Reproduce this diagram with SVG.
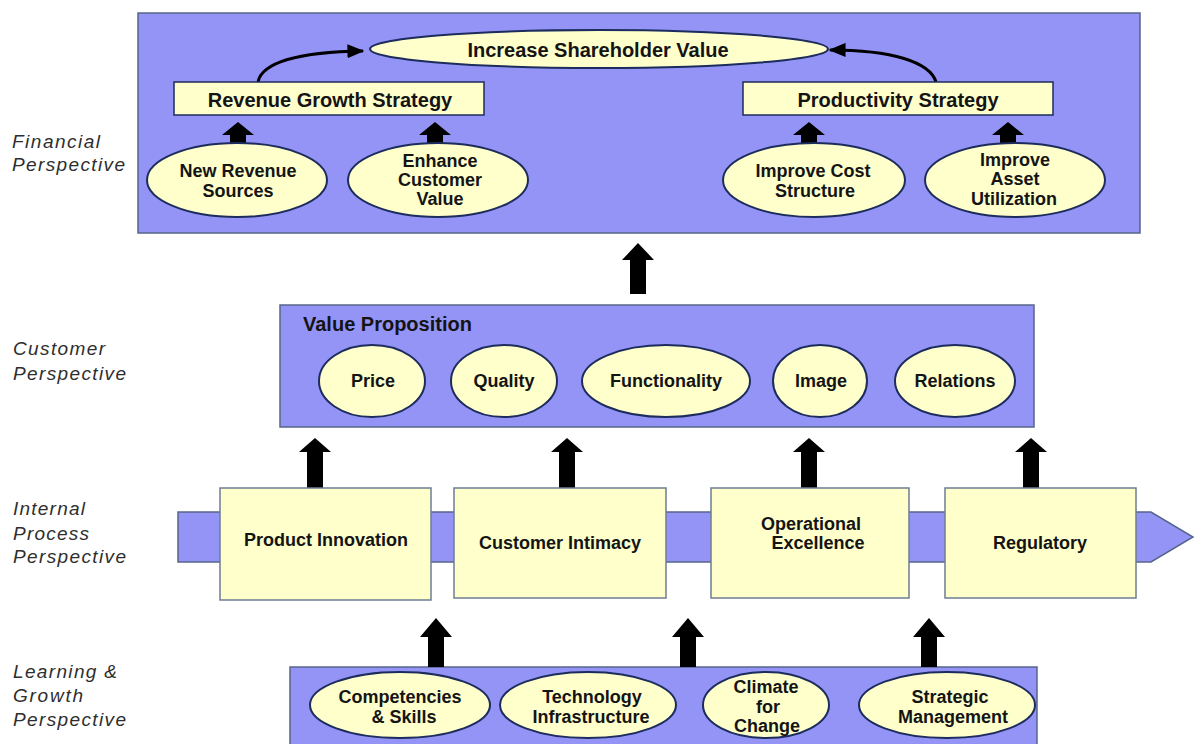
<svg xmlns="http://www.w3.org/2000/svg" width="1196" height="744" viewBox="0 0 1196 744">
<defs>
<style>
.panel{fill:#9494F6;stroke:#55658a;stroke-width:1.5}
.box{fill:#FFFFCC;stroke:#6d7d92;stroke-width:1.5}
.ell{fill:#FFFFCC;stroke:#1c2c5c;stroke-width:2}
.blk{fill:#000}
.t{font-family:"Liberation Sans",Arial,sans-serif;font-weight:bold;font-size:18px;fill:#141414;text-anchor:middle}
.h{font-family:"Liberation Sans",Arial,sans-serif;font-weight:bold;font-size:20px;fill:#141414;text-anchor:middle}
.lab{font-family:"Liberation Sans",Arial,sans-serif;font-style:italic;font-size:19px;fill:#2e2e2e}
.curve{fill:none;stroke:#000;stroke-width:3}
</style>
<marker id="ah" viewBox="0 0 12 10" refX="11" refY="5" markerWidth="17" markerHeight="15" markerUnits="userSpaceOnUse" orient="auto">
<path d="M0,0 L12,5 L0,10 z" fill="#000"/>
</marker>
</defs>
<rect width="1196" height="744" fill="#fff"/>

<g id="labels">
<text class="lab" x="12" y="148" textLength="88" lengthAdjust="spacing">Financial</text>
<text class="lab" x="12" y="171" textLength="113" lengthAdjust="spacing">Perspective</text>
<text class="lab" x="13" y="355" textLength="92" lengthAdjust="spacing">Customer</text>
<text class="lab" x="13" y="380" textLength="113" lengthAdjust="spacing">Perspective</text>
<text class="lab" x="13" y="515" textLength="72" lengthAdjust="spacing">Internal</text>
<text class="lab" x="13" y="540" textLength="76" lengthAdjust="spacing">Process</text>
<text class="lab" x="13" y="563" textLength="113" lengthAdjust="spacing">Perspective</text>
<text class="lab" x="13" y="678" textLength="104" lengthAdjust="spacing">Learning &amp;</text>
<text class="lab" x="13" y="702" textLength="70" lengthAdjust="spacing">Growth</text>
<text class="lab" x="13" y="726" textLength="113" lengthAdjust="spacing">Perspective</text>
</g>

<g id="financial-panel">
<rect class="panel" x="138" y="13" width="1002" height="220"/>
</g>
<g id="customer-panel">
<rect class="panel" x="280" y="305" width="754" height="122"/>
<text class="h" x="303" y="331" style="text-anchor:start">Value Proposition</text>
</g>
<g id="process-band">
<polygon class="panel" points="178,512 1151,512 1193,537 1151,562 178,562"/>
</g>
<g id="learning-panel">
<rect class="panel" x="290" y="667" width="747" height="82"/>
</g>

<g id="connectors">
<path class="curve" d="M258,82 C262,62 300,52 363,51" marker-end="url(#ah)"/>
<path class="curve" d="M936,82 C930,62 892,50 830,50" marker-end="url(#ah)"/>
<polygon class="blk" points="238,122 254,135 246,135 246,143 230,143 230,135 222,135"/>
<polygon class="blk" points="435,122 451,135 443,135 443,143 427,143 427,135 419,135"/>
<polygon class="blk" points="809,122 825,135 817,135 817,143 801,143 801,135 793,135"/>
<polygon class="blk" points="1008,122 1024,135 1016,135 1016,143 1000,143 1000,135 992,135"/>
<polygon class="blk" points="638,243 654,260 646,260 646,294 630,294 630,260 622,260"/>
<polygon class="blk" points="315,438 331,452 323,452 323,488 307,488 307,452 299,452"/>
<polygon class="blk" points="567,438 583,452 575,452 575,488 559,488 559,452 551,452"/>
<polygon class="blk" points="809,438 825,452 817,452 817,488 801,488 801,452 793,452"/>
<polygon class="blk" points="1031,438 1047,452 1039,452 1039,488 1023,488 1023,452 1015,452"/>
<polygon class="blk" points="436,618 452,637 444,637 444,667 428,667 428,637 420,637"/>
<polygon class="blk" points="688,618 704,637 696,637 696,667 680,667 680,637 672,637"/>
<polygon class="blk" points="929,618 945,637 937,637 937,667 921,667 921,637 913,637"/>
</g>

<g id="increase-shareholder-value">
<ellipse class="ell" cx="599" cy="49" rx="229" ry="19"/>
<text class="h" x="598" y="57">Increase Shareholder Value</text>
</g>
<g id="revenue-growth-strategy">
<rect class="box" x="174" y="82" width="310" height="33" style="stroke:#1c2c5c"/>
<text class="h" x="330" y="107">Revenue Growth Strategy</text>
</g>
<g id="productivity-strategy">
<rect class="box" x="743" y="82" width="310" height="33" style="stroke:#1c2c5c"/>
<text class="h" x="898" y="107">Productivity Strategy</text>
</g>
<g id="new-revenue-sources">
<ellipse class="ell" cx="237" cy="180" rx="90" ry="37"/>
<text class="t" x="238" y="177">New Revenue</text>
<text class="t" x="238" y="197">Sources</text>
</g>
<g id="enhance-customer-value">
<ellipse class="ell" cx="438" cy="180" rx="90" ry="37"/>
<text class="t" x="440" y="167">Enhance</text>
<text class="t" x="440" y="186">Customer</text>
<text class="t" x="440" y="205">Value</text>
</g>
<g id="improve-cost-structure">
<ellipse class="ell" cx="814" cy="180" rx="91" ry="37"/>
<text class="t" x="813" y="177">Improve Cost</text>
<text class="t" x="815" y="197">Structure</text>
</g>
<g id="improve-asset-utilization">
<ellipse class="ell" cx="1015" cy="180" rx="90" ry="37"/>
<text class="t" x="1015" y="166">Improve</text>
<text class="t" x="1015" y="185">Asset</text>
<text class="t" x="1014" y="205">Utilization</text>
</g>

<g id="price"><ellipse class="ell" cx="372" cy="381" rx="53" ry="36"/><text class="t" x="373" y="387">Price</text></g>
<g id="quality"><ellipse class="ell" cx="504" cy="381" rx="53" ry="36"/><text class="t" x="504" y="387">Quality</text></g>
<g id="functionality"><ellipse class="ell" cx="666" cy="381" rx="84" ry="36"/><text class="t" x="666" y="387">Functionality</text></g>
<g id="image"><ellipse class="ell" cx="820" cy="381" rx="47" ry="36"/><text class="t" x="821" y="387">Image</text></g>
<g id="relations"><ellipse class="ell" cx="955" cy="381" rx="60" ry="36"/><text class="t" x="955" y="387">Relations</text></g>

<g id="product-innovation"><rect class="box" x="220" y="488" width="211" height="112"/><text class="t" x="326" y="546">Product Innovation</text></g>
<g id="customer-intimacy"><rect class="box" x="454" y="488" width="212" height="110"/><text class="t" x="560" y="549">Customer Intimacy</text></g>
<g id="operational-excellence"><rect class="box" x="711" y="488" width="198" height="110"/><text class="t" x="811" y="530">Operational</text><text class="t" x="818" y="549">Excellence</text></g>
<g id="regulatory"><rect class="box" x="945" y="488" width="191" height="110"/><text class="t" x="1040" y="549">Regulatory</text></g>

<g id="competencies-skills"><ellipse class="ell" cx="400" cy="705" rx="90" ry="33"/><text class="t" x="400" y="703">Competencies</text><text class="t" x="404" y="723">&amp; Skills</text></g>
<g id="technology-infrastructure"><ellipse class="ell" cx="588" cy="705" rx="88" ry="33"/><text class="t" x="592" y="703">Technology</text><text class="t" x="591" y="723">Infrastructure</text></g>
<g id="climate-for-change"><ellipse class="ell" cx="766" cy="705" rx="63" ry="33"/><text class="t" x="766" y="693">Climate</text><text class="t" x="768" y="713">for</text><text class="t" x="767" y="732">Change</text></g>
<g id="strategic-management"><ellipse class="ell" cx="947" cy="705" rx="88" ry="33"/><text class="t" x="950" y="703">Strategic</text><text class="t" x="953" y="723">Management</text></g>
</svg>
